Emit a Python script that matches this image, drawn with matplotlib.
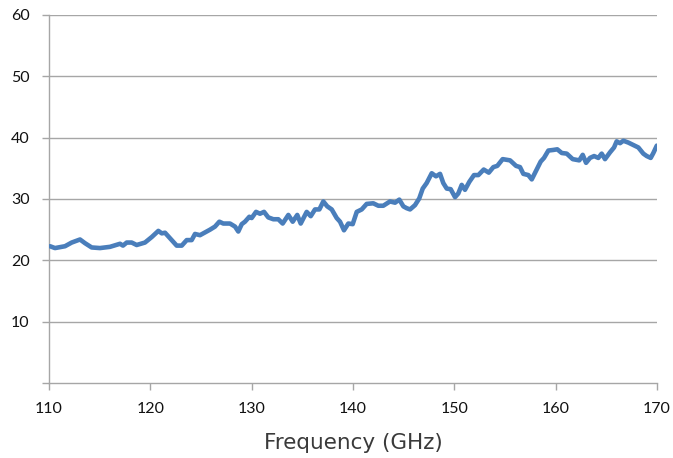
import matplotlib
matplotlib.use("Agg")
import matplotlib.pyplot as plt

freq_ghz = [110.10, 110.59, 111.58, 112.24, 113.06, 113.55, 114.21, 115.03, 116.02, 117.01,
            117.30, 117.67, 118.16, 118.65, 119.47, 120.14, 120.79, 121.13, 121.45, 122.11,
            122.60, 123.10, 123.59, 124.08, 124.41, 124.90, 125.89, 126.38, 126.81, 127.20,
            127.86, 128.36, 128.68, 129.02, 129.34, 129.77, 130.00, 130.43, 130.82, 131.22,
            131.64, 132.14, 132.63, 133.06, 133.62, 134.05, 134.50, 134.84, 135.43, 135.83,
            136.25, 136.68, 137.07, 137.46, 137.90, 138.39, 138.72, 139.11, 139.54, 139.97,
            140.37, 140.86, 141.35, 142.00, 142.50, 142.99, 143.65, 144.15, 144.57, 144.97,
            145.30, 145.63, 146.12, 146.54, 146.88, 147.27, 147.77, 148.19, 148.59, 148.91,
            149.25, 149.64, 150.07, 150.39, 150.73, 151.05, 151.48, 151.94, 152.37, 152.90,
            153.40, 153.85, 154.24, 154.77, 155.50, 156.09, 156.48, 156.81, 157.30, 157.64,
            158.06, 158.52, 158.85, 159.28, 159.77, 160.16, 160.60, 161.09, 161.68, 162.33,
            162.67, 163.00, 163.39, 163.79, 164.21, 164.54, 164.87, 165.36, 165.76, 166.02,
            166.35, 166.68, 167.17, 167.66, 168.16, 168.65, 168.99, 169.38, 169.64, 169.98]
values = [22.3, 22.0, 22.3, 22.9, 23.4, 22.8, 22.1, 22.0, 22.2, 22.7,
          22.4, 22.9, 22.9, 22.5, 22.9, 23.8, 24.8, 24.4, 24.5, 23.3,
          22.4, 22.4, 23.3, 23.3, 24.3, 24.1, 25.0, 25.5, 26.3, 26.0,
          26.0, 25.5, 24.7, 25.9, 26.3, 27.1, 26.9, 27.9, 27.6, 27.9,
          27.0, 26.7, 26.7, 26.0, 27.4, 26.3, 27.4, 26.0, 27.9, 27.2,
          28.3, 28.3, 29.6, 28.8, 28.3, 26.9, 26.3, 24.9, 26.0, 25.9,
          27.9, 28.3, 29.2, 29.3, 28.9, 28.9, 29.6, 29.4, 29.9, 28.8,
          28.5, 28.3, 29.0, 30.1, 31.7, 32.6, 34.2, 33.7, 34.1, 32.6,
          31.7, 31.6, 30.3, 30.9, 32.3, 31.5, 32.8, 33.9, 33.9, 34.8,
          34.3, 35.2, 35.4, 36.5, 36.3, 35.4, 35.2, 34.1, 33.9, 33.2,
          34.6, 36.1, 36.7, 37.9, 38.0, 38.1, 37.5, 37.4, 36.5, 36.3,
          37.2, 35.9, 36.7, 37.0, 36.7, 37.4, 36.5, 37.6, 38.4, 39.4,
          39.1, 39.5, 39.2, 38.8, 38.4, 37.4, 37.0, 36.7, 37.5, 38.7]

x_ticks = [110, 120, 130, 140, 150, 160, 170]
y_ticks = [0, 10, 20, 30, 40, 50, 60]
y_tick_labels = ["", "10", "20", "30", "40", "50", "60"]
x_label = "Frequency (GHz)"

fig = plt.figure(figsize=(6.73, 4.58), dpi=100)
ax = fig.add_axes([49/673, 1-383/458, (657-49)/673, (383-15)/458])

grid_c = "#a6a6a6"
for v in y_ticks[1:]:
    ax.axhline(v, color=grid_c, lw=1.0, zorder=1)

ax.plot(freq_ghz, values, color="#4a7ebb", lw=3.3, solid_capstyle="round",
        solid_joinstyle="round", zorder=3)

ax.set_xlim(110, 170)
ax.set_ylim(0, 60)
ax.set_xticks(x_ticks)
ax.set_xticklabels([str(t) for t in x_ticks], family="Lato", fontsize=11.5)
ax.set_yticks(y_ticks)
ax.set_yticklabels(y_tick_labels, family="Lato", fontsize=11.5)
ax.set_xlabel(x_label, family="DejaVu Sans", fontsize=15.5, color="#3a3a3a", labelpad=12)

for s in ["top", "right"]:
    ax.spines[s].set_visible(False)
for s in ["left", "bottom"]:
    ax.spines[s].set_color(grid_c)
    ax.spines[s].set_linewidth(1.0)
ax.tick_params(axis="both", direction="out", length=5, width=1.0, color=grid_c,
               labelcolor="#111111")
ax.tick_params(axis="x", pad=9)
ax.tick_params(axis="y", pad=9)

fig.savefig("out.png", dpi=100)
